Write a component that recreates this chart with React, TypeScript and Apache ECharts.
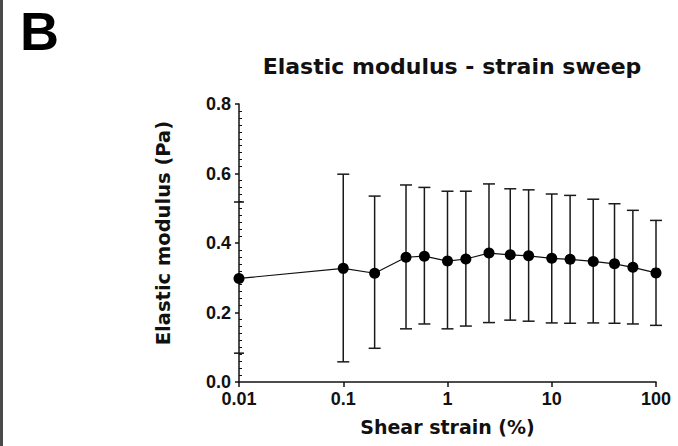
import React, { useEffect, useRef } from "react";
import * as echarts from "echarts";

const strain = [0.01, 0.1, 0.2, 0.4, 0.6, 1, 1.5, 2.5, 4, 6, 10, 15, 25, 40, 60, 100];
const modulus = [0.298, 0.327, 0.313, 0.359, 0.362, 0.348, 0.354, 0.371, 0.366, 0.363, 0.356, 0.353, 0.347, 0.34, 0.33, 0.314];
const upper = [null, 0.598, 0.535, 0.567, 0.56, 0.549, 0.549, 0.57, 0.556, 0.553, 0.541, 0.537, 0.526, 0.513, 0.494, 0.465];
const lower = [null, 0.058, 0.097, 0.153, 0.167, 0.153, 0.161, 0.171, 0.178, 0.175, 0.17, 0.169, 0.17, 0.169, 0.167, 0.163];
const breakMarks = [0.518, 0.083];
const titleText = "Elastic modulus - strain sweep";
const xName = "Shear strain (%)";
const yName = "Elastic modulus (Pa)";
const panelLetter = "B";

const FONT = "DejaVu Sans";
const TICKFONT = "Liberation Sans";

export default function App() {
  const ref = useRef<HTMLDivElement>(null);
  useEffect(() => {
    if (!ref.current) return;
    const chart = echarts.init(ref.current, null, { renderer: "svg" });
    const lineData = strain.map((x, i) => [x, modulus[i]]);
    const errData = strain
      .map((x, i) => [x, lower[i], upper[i]])
      .filter((d) => d[1] != null && d[2] != null);
    const breakData = breakMarks.map((v) => [strain[0], v]);
    const labelStyle = { fontFamily: TICKFONT, fontWeight: "bold" as const, fontSize: 18, color: "#111" };
    chart.setOption({
      animation: false,
      backgroundColor: "#fff",
      title: {
        text: titleText,
        left: 447,
        top: 50,
        textAlign: "center",
        textStyle: { fontFamily: FONT, fontWeight: "bold", fontSize: 22, color: "#111" },
      },
      graphic: [
        { type: "rect", left: 0, top: 0, shape: { width: 3, height: 446 }, style: { fill: "#4a4a4a" } },
        {
          type: "text",
          left: 20,
          top: 4,
          style: { text: panelLetter, font: 'bold 54px "Liberation Sans"', fill: "#000" },
        },
      ],
      grid: { left: 239, right: 22, top: 104, bottom: 64, containLabel: false },
      xAxis: {
        type: "log",
        logBase: 10,
        min: 0.01,
        max: 100,
        name: xName,
        nameLocation: "middle",
        nameGap: 35,
        nameTextStyle: { fontFamily: FONT, fontWeight: "bold", fontSize: 19, color: "#111" },
        axisLine: { show: true, lineStyle: { color: "#111", width: 1.5 } },
        axisTick: { show: true, length: 5, lineStyle: { color: "#111", width: 1.5 } },
        minorTick: { show: false },
        splitLine: { show: false },
        minorSplitLine: { show: false },
        axisLabel: {
          ...labelStyle,
          margin: 8,
          formatter: (v: number) => String(Number(v.toPrecision(3))),
        },
      },
      yAxis: [
        {
          type: "value",
          min: 0,
          max: 0.8,
          interval: 0.2,
          name: yName,
          nameLocation: "middle",
          nameGap: 66,
          nameRotate: 90,
          nameTextStyle: { fontFamily: FONT, fontWeight: "bold", fontSize: 19.5, color: "#111", padding: [0, 0, 0, 20] },
          axisLine: { show: true, lineStyle: { color: "#111", width: 1.5 } },
          axisTick: { show: true, length: 4, lineStyle: { color: "#111", width: 1.5 } },
          splitLine: { show: false },
          axisLabel: { ...labelStyle, margin: 8, formatter: (v: number) => v.toFixed(1) },
        },
        {
          type: "value",
          min: 0,
          max: 0.8,
          interval: 0.2,
          position: "left",
          axisLine: { show: false },
          axisLabel: { show: false },
          axisTick: { show: false, inside: true },
          minorTick: { show: true, splitNumber: 10, length: 3, lineStyle: { color: "#111", width: 1 } },
          splitLine: { show: false },
          minorSplitLine: { show: false },
        },
      ],
      series: [
        {
          type: "custom",
          name: "error",
          z: 1,
          data: errData,
          encode: { x: 0, y: [1, 2] },
          renderItem: (params: any, api: any) => {
            const x = api.value(0);
            const lo = api.coord([x, api.value(1)]);
            const hi = api.coord([x, api.value(2)]);
            const w = 6;
            const style = { stroke: "#1a1a1a", lineWidth: 1.5 };
            return {
              type: "group",
              children: [
                { type: "line", shape: { x1: lo[0], y1: lo[1], x2: hi[0], y2: hi[1] }, style },
                { type: "line", shape: { x1: hi[0] - w, y1: hi[1], x2: hi[0] + w, y2: hi[1] }, style },
                { type: "line", shape: { x1: lo[0] - w, y1: lo[1], x2: lo[0] + w, y2: lo[1] }, style },
              ],
            };
          },
        },
        {
          type: "custom",
          name: "breaks",
          z: 1,
          data: breakData,
          encode: { x: 0, y: 1 },
          renderItem: (params: any, api: any) => {
            const p = api.coord([api.value(0), api.value(1)]);
            return {
              type: "line",
              shape: { x1: p[0] - 5, y1: p[1], x2: p[0] + 5, y2: p[1] },
              style: { stroke: "#111", lineWidth: 1.5 },
            };
          },
        },
        {
          type: "line",
          name: "Elastic modulus",
          z: 3,
          data: lineData,
          symbol: "circle",
          symbolSize: 11,
          lineStyle: { color: "#111", width: 1.2 },
          itemStyle: { color: "#000" },
        },
      ],
    });
    return () => chart.dispose();
  }, []);
  return (
    <div
      ref={ref}
      style={{ position: "absolute", left: 0, top: 0, width: 678, height: 446, background: "#fff" }}
    />
  );
}
